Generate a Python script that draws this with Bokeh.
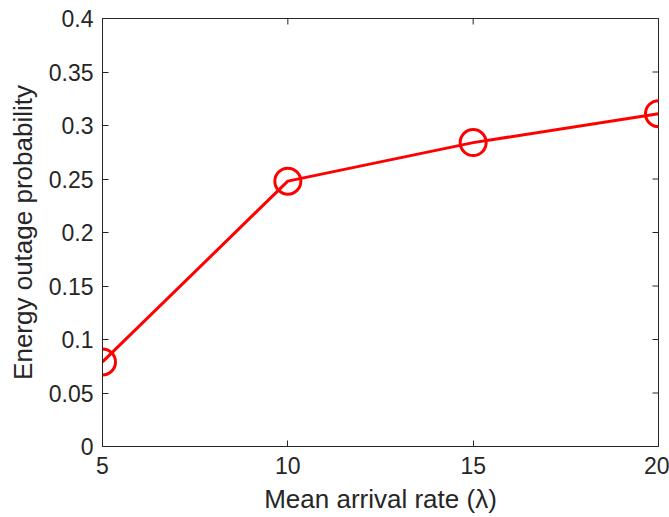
import math
from bokeh.plotting import figure
from bokeh.models import Range1d, FixedTicker
from bokeh.embed import file_html
from bokeh.resources import INLINE

arrival_rate = [5, 10, 15, 20]
outage_prob = [0.079, 0.248, 0.284, 0.311]
x_ticks = [5, 10, 15, 20]
y_ticks = [0, 0.05, 0.1, 0.15, 0.2, 0.25, 0.3, 0.35, 0.4]
x_min, x_max = 5, 20
y_min, y_max = 0, 0.4

TXT = "#262626"
FONT = "Liberation Sans"

p = figure(width=669, height=517, output_backend="svg", toolbar_location=None,
           x_range=Range1d(x_min, x_max), y_range=Range1d(y_min, y_max),
           frame_width=556, frame_height=428,
           min_border_left=102, min_border_top=18, min_border_right=11, min_border_bottom=71)
p.xgrid.visible = False
p.ygrid.visible = False
p.outline_line_color = TXT
p.outline_line_width = 1
p.background_fill_color = "white"
p.border_fill_color = "white"

def style(ax, ticks):
    ax.ticker = FixedTicker(ticks=ticks)
    ax.minor_tick_line_color = None
    ax.major_tick_in = 6
    ax.major_tick_out = 0
    ax.axis_line_color = TXT
    ax.major_tick_line_color = TXT
    ax.major_label_text_color = TXT
    ax.major_label_text_font = FONT
    ax.major_label_text_font_size = "23px"
    ax.axis_label_text_font = FONT
    ax.axis_label_text_font_size = "26px"
    ax.axis_label_text_font_style = "normal"
    ax.axis_label_text_color = TXT

style(p.xaxis[0], x_ticks)
style(p.yaxis[0], y_ticks)
p.xaxis[0].axis_label = "Mean arrival rate (λ)"
p.yaxis[0].axis_label = "Energy outage probability"
p.xaxis[0].major_label_standoff = 10
p.yaxis[0].major_label_standoff = 9
p.xaxis[0].axis_label_standoff = 7
p.yaxis[0].axis_label_standoff = 8
p.yaxis[0].major_label_orientation = "horizontal"

# inward ticks on the top and right edges of the box
p.scatter(x_ticks, [y_max] * len(x_ticks), marker="dash", angle=math.pi / 2, size=12,
          line_color=TXT, line_width=1)
p.scatter([x_max] * len(y_ticks), y_ticks, marker="dash", size=12,
          line_color=TXT, line_width=1)

p.line(arrival_rate, outage_prob, line_color="#ff0000", line_width=3)
p.scatter(arrival_rate, outage_prob, marker="circle", size=26, fill_color=None,
          line_color="#ff0000", line_width=3)

open("out.html", "w").write(file_html(p, INLINE))
